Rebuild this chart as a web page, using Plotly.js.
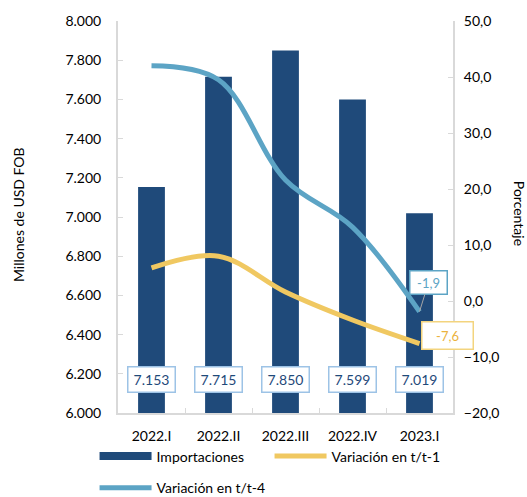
<!DOCTYPE html>
<html>
<head>
<meta charset="utf-8">
<script src="https://cdn.plot.ly/plotly-3.0.1.min.js"></script>
<style>html,body{margin:0;padding:0;background:#fff;}#chart{width:527px;height:497px;}</style>
</head>
<body>
<div id="chart"></div>
<script>
const categories = ['2022.I', '2022.II', '2022.III', '2022.IV', '2023.I'];
const importaciones = [7153, 7715, 7850, 7599, 7019];
const varT1 = [5.9, 8.0, 1.6, -3.4, -7.6];
const varT4 = [42.0, 39.5, 21.6, 13.2, -1.9];
const importLabels = ['7.153', '7.715', '7.850', '7.599', '7.019'];

const BAR = '#1F4A7A';
const YEL = '#F0C861';
const BLU = '#5CA4C5';
const FONT = 'Lato, "Open Sans", sans-serif';
const AX = '#D9D9D9';

const traces = [
  {type: 'bar', x: categories, y: importaciones, name: 'Importaciones', marker: {color: BAR}, width: 0.4, yaxis: 'y', showlegend: false, hoverinfo: 'skip'},
  {type: 'scatter', mode: 'lines', x: [null], y: [null], name: 'Importaciones', line: {color: BAR, width: 8}, legend: 'legend', yaxis: 'y'},
  {type: 'scatter', mode: 'lines', x: categories, y: varT1, name: 'Variación en t/t-1', line: {color: YEL, width: 5, shape: 'spline', smoothing: 1}, yaxis: 'y2', legend: 'legend'},
  {type: 'scatter', mode: 'lines', x: categories, y: varT4, name: 'Variación en t/t-4', line: {color: BLU, width: 5, shape: 'spline', smoothing: 1}, yaxis: 'y2', legend: 'legend2'}
];

const annotations = categories.map((c, i) => ({
  x: c, y: 6170, xref: 'x', yref: 'y', text: importLabels[i], showarrow: false,
  font: {family: FONT, size: 14, color: BAR}, bgcolor: '#fff', bordercolor: '#9DC3E6', borderwidth: 1.5,
  width: 40, height: 18, borderpad: 3
}));
annotations.push({
  x: categories[4], y: varT4[4], xref: 'x', yref: 'y2', text: '-1,9', showarrow: true, arrowhead: 0, arrowwidth: 1, arrowcolor: '#A6A6A6',
  ax: 9, ay: -29, font: {family: FONT, size: 13, color: BLU}, bgcolor: '#fff', bordercolor: BLU, borderwidth: 1.5, width: 30, height: 16, borderpad: 3
});
annotations.push({
  x: categories[4], y: varT1[4], xref: 'x', yref: 'y2', text: '-7,6', showarrow: false, xshift: 28, yshift: 8,
  font: {family: FONT, size: 13, color: '#EBB23E'}, bgcolor: '#fff', bordercolor: '#F3D47E', borderwidth: 1.5, width: 44, height: 20, borderpad: 3
});
annotations.push({
  x: -0.2985, y: 0.505, xref: 'paper', yref: 'paper', xanchor: 'center', yanchor: 'middle', text: 'Millones de USD FOB', textangle: -90, showarrow: false,
  font: {family: FONT, size: 14, color: '#000'}
});
annotations.push({
  x: 1.197, y: 0.508, xref: 'paper', yref: 'paper', xanchor: 'center', yanchor: 'middle', text: 'Porcentaje', textangle: 90, showarrow: false,
  font: {family: FONT, size: 14, color: '#000'}
});

const layout = {
  width: 527, height: 497,
  margin: {l: 118, r: 74, t: 21, b: 84, autoexpand: false},
  paper_bgcolor: '#fff', plot_bgcolor: '#fff',
  separators: ',.',
  font: {family: FONT, size: 14, color: '#000'},
  bargap: 0.6,
  xaxis: {
    type: 'category', range: [-0.5, 4.5], autorange: false, showline: true, linecolor: AX, linewidth: 2, ticks: 'inside', tickson: 'boundaries', ticklen: 5, tickcolor: AX,
    showgrid: false, tickfont: {family: FONT, size: 14, color: '#000'}, ticklabelstandoff: 9, fixedrange: true
  },
  yaxis: {
    range: [6000, 8000], autorange: false, dtick: 200, tickformat: ',d', showline: true, linecolor: AX, linewidth: 2, ticks: 'inside', ticklen: 5, tickcolor: AX,
    showgrid: false, zeroline: false, tickfont: {family: FONT, size: 14, color: '#000'}, ticklabelstandoff: 12
  },
  yaxis2: {
    overlaying: 'y', side: 'right', range: [-20, 50], autorange: false, dtick: 10, tickformat: '.1f', showline: true, linecolor: AX, linewidth: 2,
    ticks: 'inside', ticklen: 5, tickcolor: AX, showgrid: false, zeroline: false, tickfont: {family: FONT, size: 14, color: '#000'}, ticklabelstandoff: 6
  },
  legend: {orientation: 'h', x: -0.07, xanchor: 'left', y: -0.07, yanchor: 'top', font: {family: FONT, size: 14, color: '#000'}, entrywidth: 108, entrywidthmode: 'pixels', itemwidth: 52, bgcolor: 'rgba(0,0,0,0)'},
  legend2: {orientation: 'h', x: -0.07, xanchor: 'left', y: -0.151, yanchor: 'top', font: {family: FONT, size: 14, color: '#000'}, itemwidth: 52, bgcolor: 'rgba(0,0,0,0)'},
  annotations: annotations,
  showlegend: true
};

Plotly.newPlot('chart', traces, layout, {displayModeBar: false, staticPlot: true});
</script>
</body>
</html>
